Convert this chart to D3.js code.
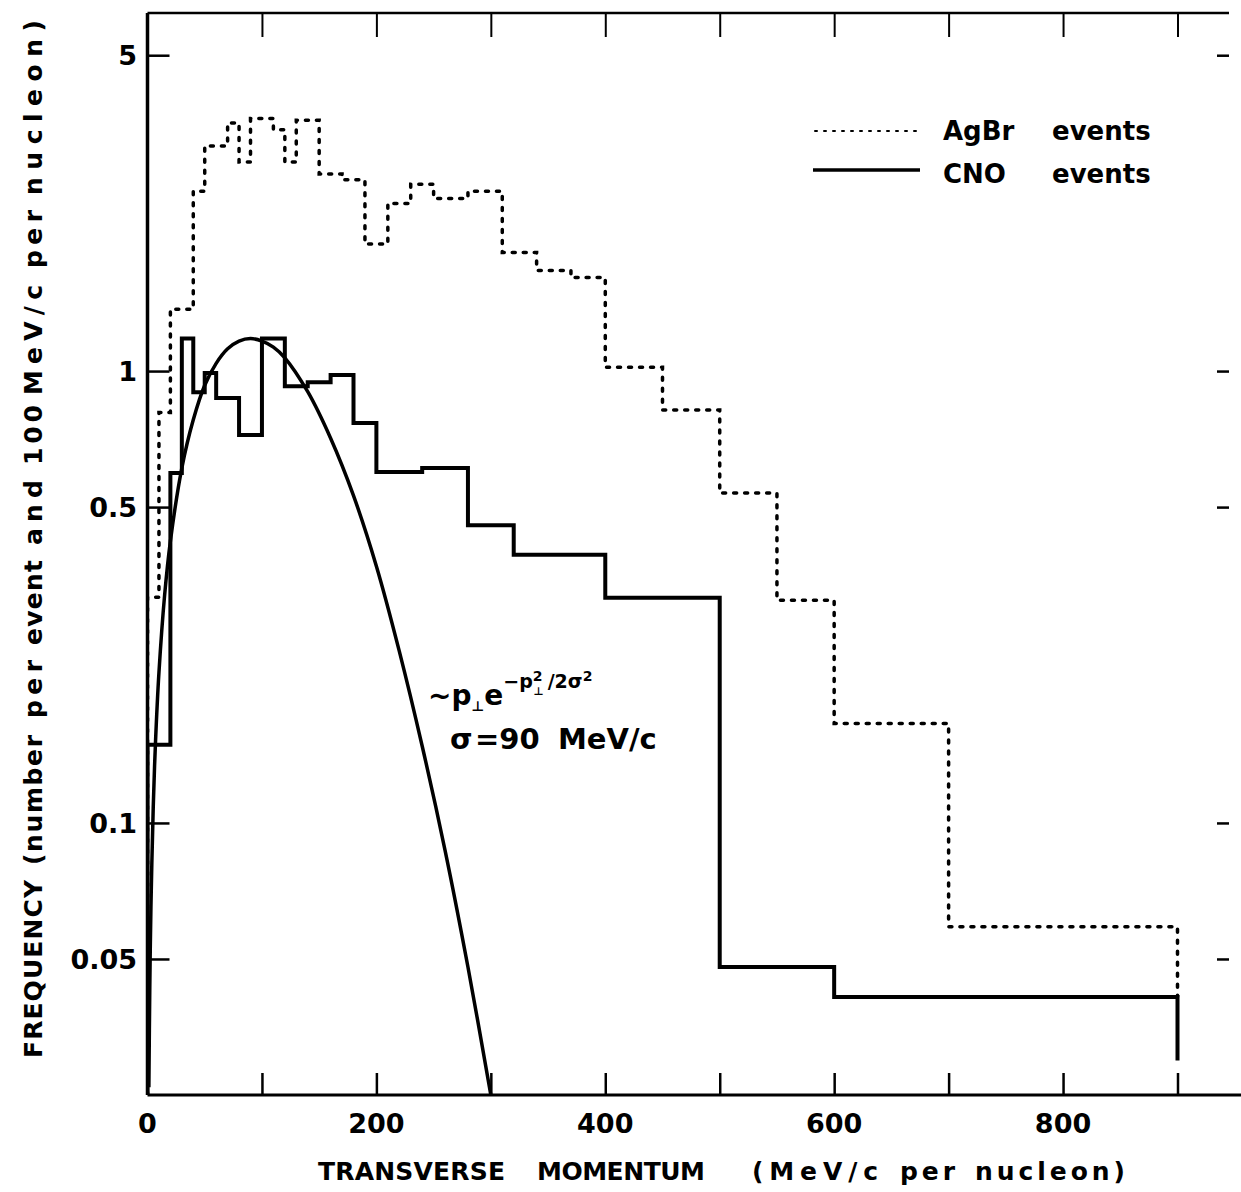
<!DOCTYPE html>
<html>
<head>
<meta charset="utf-8">
<script src="https://cdn.jsdelivr.net/npm/d3@7"></script>
<style>
  html, body { margin: 0; padding: 0; background: #fff; }
  text { font-family: "DejaVu Sans", "Liberation Sans", sans-serif; font-weight: bold; fill: #000; }
</style>
</head>
<body>
<svg id="chart" width="1241" height="1192"></svg>
<script>
// ---- data ----
// AgBr events (dotted histogram): bin edges and frequencies
const agbrEdges  = [0, 10, 20, 40, 50, 70, 80, 90, 110, 120, 130, 150, 170, 190, 210, 230, 250, 280, 310, 340, 370, 400, 450, 500, 550, 600, 700, 900];
const agbrValues = [0.316, 0.81, 1.37, 2.5, 3.15, 3.54, 2.9, 3.62, 3.42, 2.9, 3.59, 2.73, 2.65, 1.91, 2.35, 2.59, 2.41, 2.5, 1.83, 1.67, 1.61, 1.02, 0.82, 0.537, 0.311, 0.166, 0.0589];
const agbrEnd = 0.0412;

// CNO events (solid histogram)
const cnoEdges  = [0, 20, 30, 40, 50, 60, 80, 100, 120, 140, 160, 180, 200, 240, 280, 320, 400, 500, 600, 900];
const cnoValues = [0.149, 0.595, 1.18, 0.898, 0.99, 0.872, 0.722, 1.18, 0.925, 0.945, 0.98, 0.767, 0.598, 0.61, 0.456, 0.392, 0.315, 0.048, 0.0412];
const cnoEnd = 0.0298;

// Fitted curve ~ p e^{-p^2/2sigma^2}
const curveP = [1.2, 2, 3, 5, 7, 10, 15, 20, 30, 40, 50, 60, 70, 80, 90, 100, 110, 120, 140, 160, 180, 200, 220, 240, 260, 280, 300];
const curveV = [0.026, 0.043, 0.065, 0.108, 0.151, 0.215, 0.32, 0.42, 0.61, 0.78, 0.93, 1.04, 1.12, 1.165, 1.18, 1.165, 1.13, 1.07, 0.90, 0.71, 0.53, 0.37, 0.24, 0.148, 0.087, 0.048, 0.025];

// Axis ticks
const xTicks = [0, 200, 400, 600, 800];
const xMinorTicks = [100, 200, 300, 400, 500, 600, 700, 800, 900];
const yTicks = [5, 1, 0.5, 0.1, 0.05];
const yTickLabels = ["5", "1", "0.5", "0.1", "0.05"];

const xTitleWords = ["TRANSVERSE", "MOMENTUM", "(MeV/c", "per", "nucleon)"];
const yTitleWords = ["FREQUENCY", "(number", "per", "event", "and", "100", "MeV/c", "per", "nucleon)"];
const legendNames = ["AgBr", "CNO"];

// ---- layout ----
const svg = d3.select("#chart");
svg.append("rect").attr("width", 1241).attr("height", 1192).attr("fill", "#fff");

const pL = 147.5, pR = 1229, pT = 13, pB = 1095;
const x = d3.scaleLinear().domain([0, 945]).range([pL, pR]);
const y = d3.scaleLog().domain([0.025, 6.2]).range([pB, pT]);

svg.append("defs").append("clipPath").attr("id", "plotclip")
  .append("rect").attr("x", pL).attr("y", pT).attr("width", pR - pL).attr("height", pB - pT);

// ---- frame ----
const frame = svg.append("g").attr("stroke", "#000").attr("fill", "none");
frame.append("line").attr("x1", pL).attr("x2", 1241).attr("y1", pB).attr("y2", pB).attr("stroke-width", 3);
frame.append("line").attr("x1", pL).attr("x2", pL).attr("y1", pT).attr("y2", pB).attr("stroke-width", 3.5);
frame.append("line").attr("x1", pL).attr("x2", pR).attr("y1", pT).attr("y2", pT).attr("stroke-width", 2.5);

const bottomAxis = d3.axisBottom(x).tickValues(xMinorTicks).tickSize(-22).tickFormat("");
svg.append("g").attr("transform", `translate(0,${pB})`).call(bottomAxis)
  .call(g => g.select(".domain").remove())
  .call(g => g.selectAll("line").attr("stroke-width", 2.5));
const topAxis = d3.axisTop(x).tickValues(xMinorTicks).tickSize(-24).tickFormat("");
svg.append("g").attr("transform", `translate(0,${pT})`).call(topAxis)
  .call(g => g.select(".domain").remove())
  .call(g => g.selectAll("line").attr("stroke-width", 2));
const leftAxis = d3.axisLeft(y).tickValues(yTicks).tickSize(-22).tickFormat("");
svg.append("g").attr("transform", `translate(${pL},0)`).call(leftAxis)
  .call(g => g.select(".domain").remove())
  .call(g => g.selectAll("line").attr("stroke-width", 2.5));
const rightAxis = d3.axisRight(y).tickValues(yTicks).tickSize(-12).tickFormat("");
svg.append("g").attr("transform", `translate(${pR},0)`).call(rightAxis)
  .call(g => g.select(".domain").remove())
  .call(g => g.selectAll("line").attr("stroke-width", 2.5));

// tick labels
svg.append("g").selectAll("text").data(xTicks).join("text")
  .attr("x", d => x(d)).attr("y", 1133)
  .attr("text-anchor", "middle").attr("font-size", 27)
  .text(d => d);
svg.append("g").selectAll("text").data(yTicks).join("text")
  .attr("x", 137).attr("y", d => y(d) + 10)
  .attr("text-anchor", "end").attr("font-size", 27)
  .text((d, i) => yTickLabels[i]);

// axis titles (word starts and widths placed as in the reference)
const xWordX = [318, 537, 752, 900, 975];
const xWordW = [187, 168, 126, 55, 150];
const xt = svg.append("text").attr("y", 1180).attr("font-size", 25);
xt.selectAll("tspan").data(xTitleWords).join("tspan")
  .attr("x", (d, i) => xWordX[i])
  .attr("textLength", (d, i) => xWordW[i]).attr("lengthAdjust", "spacing")
  .text(d => d);

const yWordOff = [2, 195, 342, 415, 515, 595, 665, 792, 865];
const yWordW = [178, 130, 58, 85, 65, 60, 110, 58, 175];
const yt = svg.append("text").attr("transform", "translate(42,1060) rotate(-90)").attr("font-size", 25);
yt.selectAll("tspan").data(yTitleWords).join("tspan")
  .attr("x", (d, i) => yWordOff[i]).attr("y", 0)
  .attr("textLength", (d, i) => yWordW[i]).attr("lengthAdjust", "spacing")
  .text(d => d);

// ---- histograms ----
function stepPoints(edges, values, endV) {
  const pts = [[edges[0], 0.025]];
  values.forEach((v, i) => { pts.push([edges[i], v]); pts.push([edges[i + 1], v]); });
  pts.push([edges[edges.length - 1], endV]);
  return pts;
}
const lineGen = d3.line().x(d => x(d[0])).y(d => y(d[1]));
const plot = svg.append("g").attr("clip-path", "url(#plotclip)");

plot.append("path").attr("d", lineGen(stepPoints(agbrEdges, agbrValues, agbrEnd)))
  .attr("fill", "none").attr("stroke", "#000").attr("stroke-width", 3.5)
  .attr("stroke-dasharray", "3 8").attr("stroke-linecap", "round");

plot.append("path").attr("d", lineGen(stepPoints(cnoEdges, cnoValues, cnoEnd)))
  .attr("fill", "none").attr("stroke", "#000").attr("stroke-width", 4)
  .attr("stroke-linejoin", "miter");

const curveGen = d3.line().x(d => x(d[0])).y(d => y(d[1])).curve(d3.curveCatmullRom);
plot.append("path").attr("d", curveGen(curveP.map((p, i) => [p, curveV[i]])))
  .attr("fill", "none").attr("stroke", "#000").attr("stroke-width", 3.5);

// ---- annotation ----
const ann = svg.append("text").attr("x", 428).attr("y", 705).attr("font-size", 28);
ann.append("tspan").text("~p");
ann.append("tspan").attr("font-size", 14).attr("dy", 6).text("⊥");
ann.append("tspan").attr("dy", -6).text("e");
ann.append("tspan").attr("font-size", 19).attr("dy", -17).text("−p");
ann.append("tspan").attr("font-size", 14).attr("dy", -7).text("2");
ann.append("tspan").attr("font-size", 11).attr("dx", -9).attr("dy", 14).text("⊥");
ann.append("tspan").attr("font-size", 19).attr("dx", 4).attr("dy", -7).text("/2σ");
ann.append("tspan").attr("font-size", 14).attr("dy", -7).text("2");

const sig = svg.append("text").attr("y", 749).attr("font-size", 29);
sig.append("tspan").attr("x", 450).text("σ");
sig.append("tspan").attr("x", 475).text("=90");
sig.append("tspan").attr("x", 558).text("MeV/c");

// ---- legend ----
const leg = svg.append("g");
leg.append("line").attr("x1", 815).attr("x2", 920).attr("y1", 131).attr("y2", 131)
  .attr("stroke", "#000").attr("stroke-width", 2).attr("stroke-dasharray", "2 7").attr("stroke-linecap", "round");
leg.append("line").attr("x1", 813).attr("x2", 920).attr("y1", 170).attr("y2", 170)
  .attr("stroke", "#000").attr("stroke-width", 3.5);
const legText = leg.selectAll("text").data(legendNames).join("text")
  .attr("y", (d, i) => 140 + i * 43).attr("font-size", 26);
legText.append("tspan").attr("x", 943).text(d => d);
legText.append("tspan").attr("x", 1052).text("events");
</script>
</body>
</html>
